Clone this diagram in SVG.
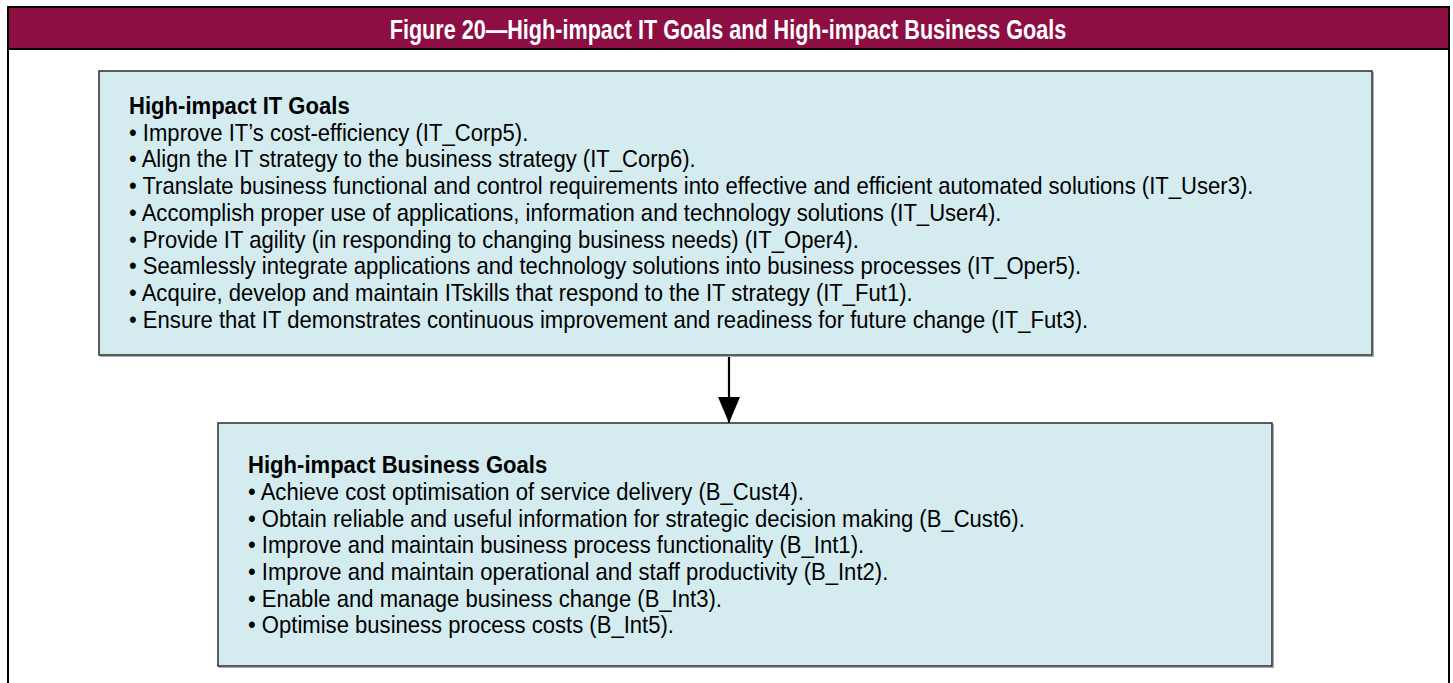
<svg xmlns="http://www.w3.org/2000/svg" width="1453" height="683" viewBox="0 0 1453 683">
  <style>
    .frame { fill: #ffffff; stroke: #000000; stroke-width: 2; }
    .band { fill: #8C0E43; }
    .rule { stroke: #000000; stroke-width: 2.2; }
    .heading { font-family: "Liberation Sans", Arial, sans-serif; font-weight: bold; font-size: 27px; fill: #ffffff; text-anchor: middle; }
    .box { fill: #D4ECF0; stroke: #2b2b2b; stroke-width: 1.5; }
    .shade { fill: none; stroke: #a8a8a8; stroke-width: 1; }
    .title { font-family: "Liberation Sans", Arial, sans-serif; font-weight: bold; font-size: 24px; fill: #000000; }
    .item { font-family: "Liberation Sans", Arial, sans-serif; font-size: 24px; fill: #000000; }
    .link { stroke: #000000; stroke-width: 2.2; fill: none; }
  </style>
  <defs>
    <marker id="head" viewBox="0 0 26 22" refX="26" refY="11" markerWidth="26" markerHeight="22" markerUnits="userSpaceOnUse" orient="auto">
      <path d="M0,0 L26,11 L0,22 Z" fill="#000000"/>
    </marker>
  </defs>

  <!-- outer frame and heading band -->
  <rect class="frame" x="8" y="7" width="1441" height="700"/>
  <rect class="band" x="9" y="8" width="1439" height="40"/>
  <line class="rule" x1="8" y1="49" x2="1449" y2="49"/>
  <g transform="translate(728,0) scale(0.8,1)">
    <text class="heading" x="0" y="39">Figure 20—High-impact IT Goals and High-impact Business Goals</text>
  </g>

  <!-- connectors -->
  <g id="connectors">
    <line class="link" x1="729" y1="356" x2="729" y2="423" marker-end="url(#head)"/>
  </g>

  <!-- IT goals -->
  <g id="it-goals">
    <rect class="shade" x="100.5" y="72.5" width="1273" height="284"/>
    <rect class="box" x="99" y="71" width="1273" height="284"/>
    <g transform="translate(129,0) scale(0.92,1)">
      <text class="title" x="0" y="114">High-impact IT Goals</text>
      <text class="item" x="0" y="141">• Improve IT’s cost-efficiency (IT_Corp5).</text>
      <text class="item" x="0" y="167.5">• Align the IT strategy to the business strategy (IT_Corp6).</text>
      <text class="item" x="0" y="194">• Translate business functional and control requirements into effective and efficient automated solutions (IT_User3).</text>
      <text class="item" x="0" y="221">• Accomplish proper use of applications, information and technology solutions (IT_User4).</text>
      <text class="item" x="0" y="248">• Provide IT agility (in responding to changing business needs) (IT_Oper4).</text>
      <text class="item" x="0" y="274.5">• Seamlessly integrate applications and technology solutions into business processes (IT_Oper5).</text>
      <text class="item" x="0" y="301">• Acquire, develop and maintain ITskills that respond to the IT strategy (IT_Fut1).</text>
      <text class="item" x="0" y="328">• Ensure that IT demonstrates continuous improvement and readiness for future change (IT_Fut3).</text>
    </g>
  </g>

  <!-- business goals -->
  <g id="business-goals">
    <rect class="shade" x="219.5" y="424.5" width="1054" height="243"/>
    <rect class="box" x="218" y="423" width="1054" height="243"/>
    <g transform="translate(248,0) scale(0.92,1)">
      <text class="title" x="0" y="473">High-impact Business Goals</text>
      <text class="item" x="0" y="500">• Achieve cost optimisation of service delivery (B_Cust4).</text>
      <text class="item" x="0" y="527">• Obtain reliable and useful information for strategic decision making (B_Cust6).</text>
      <text class="item" x="0" y="553">• Improve and maintain business process functionality (B_Int1).</text>
      <text class="item" x="0" y="580">• Improve and maintain operational and staff productivity (B_Int2).</text>
      <text class="item" x="0" y="607">• Enable and manage business change (B_Int3).</text>
      <text class="item" x="0" y="633">• Optimise business process costs (B_Int5).</text>
    </g>
  </g>
</svg>
